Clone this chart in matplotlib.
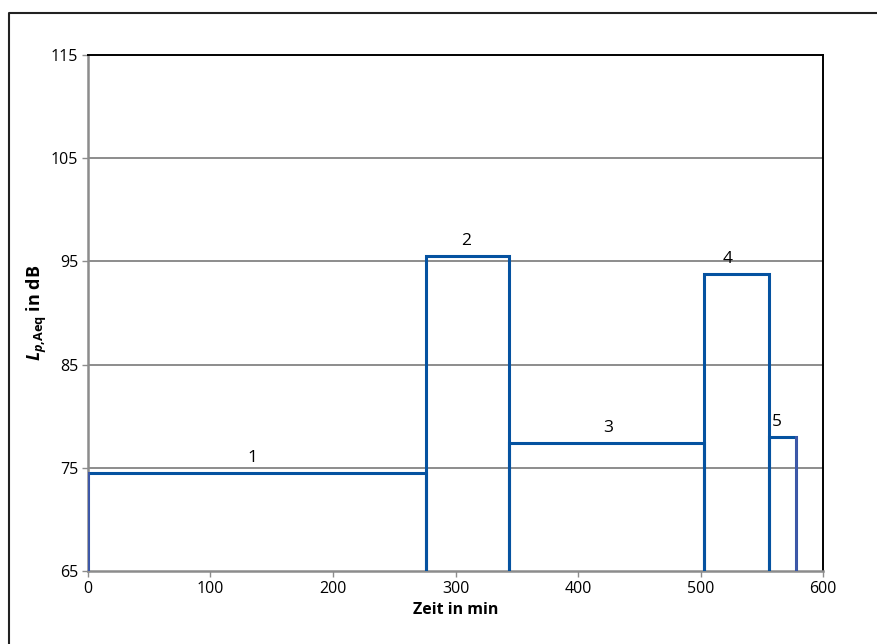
import matplotlib.pyplot as plt
from matplotlib.lines import Line2D

plt.rcParams['font.family'] = ['Open Sans', 'DejaVu Sans']
plt.rcParams['mathtext.fontset'] = 'custom'
plt.rcParams['mathtext.rm'] = 'Open Sans:bold'
plt.rcParams['mathtext.it'] = 'Open Sans:italic:bold'
plt.rcParams['mathtext.bf'] = 'Open Sans:bold'

# phases: start / end in min, level in dB
starts = [0, 276, 344, 503, 556]
ends = [276, 344, 503, 556, 578]
levels = [74.5, 95.5, 77.4, 93.8, 78.0]
labels = ['1', '2', '3', '4', '5']
label_x = [134, 309, 425, 522, 562]

blue = '#0552a0'
edge_blue = '#4058a8'
grey = '#8c8c8c'

fig = plt.figure(figsize=(8.78, 6.44), dpi=100)
ax = fig.add_axes([0.1002, 0.1134, 0.8372, 0.8012])

for y in [75, 85, 95, 105]:
    ax.axhline(y, color=grey, lw=1.4, zorder=1)

for s, e, l in zip(starts, ends, levels):
    ax.plot([s, s, e, e], [65, l, l, 65], color=blue, lw=2.2, zorder=3,
            solid_joinstyle='miter')

# outer edges look a little lighter / more violet
ax.plot([starts[0], starts[0]], [65, levels[0]], color=edge_blue, lw=2.0, zorder=4)
ax.plot([ends[-1], ends[-1]], [65, levels[-1]], color=edge_blue, lw=2.0, zorder=4)

for x, l, t in zip(label_x, levels, labels):
    ax.annotate(t, (x, l), xytext=(0, 5), textcoords='offset points',
                ha='center', va='bottom', fontsize=12.5)

ax.set_xlim(0, 600)
ax.set_ylim(65, 115)
ax.set_xticks(range(0, 601, 100))
ax.set_yticks(range(65, 116, 10))
ax.tick_params(axis='both', direction='out', length=4, width=1, color=grey,
               labelsize=11.5, pad=3)

for side in ['left', 'bottom']:
    ax.spines[side].set_color(grey)
    ax.spines[side].set_linewidth(1.8)
for side in ['top', 'right']:
    ax.spines[side].set_color('black')
    ax.spines[side].set_linewidth(1.4)

ax.set_xlabel('Zeit in min', fontsize=11.5, fontweight='bold', labelpad=4)
ax.set_ylabel(r'$L_{p{,}\mathrm{Aeq}}$ in dB', fontsize=13, fontweight='bold',
              labelpad=1)

# frame (only left and top edges are visible in the image)
fig.lines.append(Line2D([0.0105, 0.0105, 1.0], [0.0, 0.98, 0.98],
                        transform=fig.transFigure, color='#222222', lw=1.5))

fig.savefig('out.png', dpi=100)
